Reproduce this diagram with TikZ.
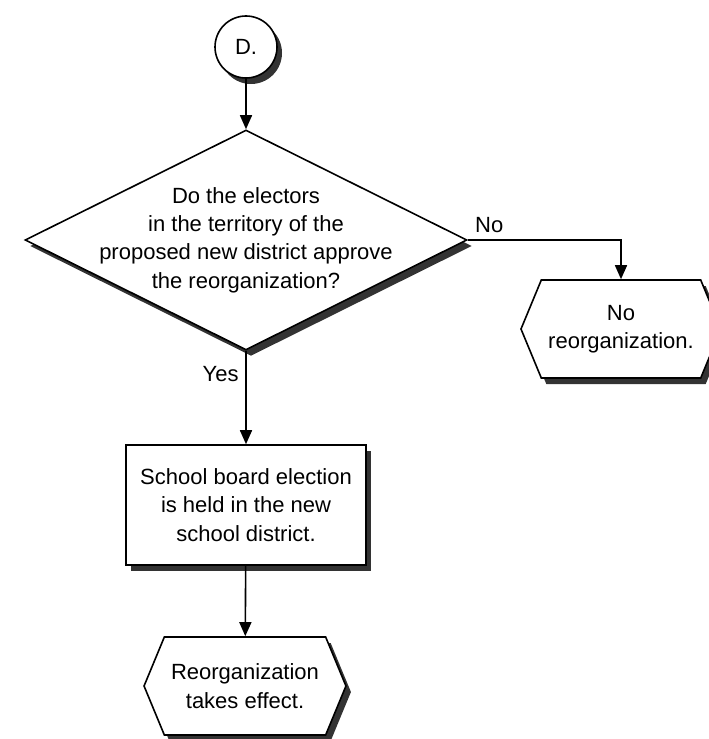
\documentclass[tikz,border=0pt]{standalone}
\usepackage{fontspec}
\setmainfont{Liberation Sans}
\usetikzlibrary{positioning, shapes, shadows, arrows.meta}
\tikzset{
	boxShadow/.style={
		drop shadow={shadow xshift=2.5pt, shadow yshift=-3pt, fill=black!80, opacity=1}
	}
}
\tikzstyle{connectorNode}=[draw,circle,fill=white,minimum size=31pt,inner sep=0pt,line width=0.8pt,boxShadow]
\tikzstyle{decisionNode}=[draw,diamond,fill=white,minimum width=221pt,minimum height=110pt,inner sep=0pt,line width=0.8pt,boxShadow]
\tikzstyle{processNode}=[draw,rectangle,fill=white,minimum width=120pt,minimum height=60pt,align=center,line width=0.8pt,boxShadow]
\tikzstyle{terminalNode}=[draw,signal,signal to=east and west,signal pointer angle=135,fill=white,minimum width=100pt,minimum height=49pt,align=center,line width=0.8pt,boxShadow]
\tikzstyle{flowArrow}=[-{Triangle[width=6pt,length=7pt]}, line width=0.8pt]

\begin{document}
\begin{tikzpicture}[x=0.5pt, y=-0.5pt, font=\fontsize{11}{14.2}\selectfont]
        \useasboundingbox (0, 0) rectangle (708, 739);

        \node[connectorNode] (d) at (246, 47) {D.};
        \node[decisionNode, label={[align=center]center:{Do the electors\\in the territory of the\\proposed new district approve\\the reorganization?}}] (q) at (246, 240) {};
        \node[terminalNode] (none) at (621, 329) {No\\reorganization.};
        \node[processNode] (elect) at (246, 505) {School board election\\is held in the new\\school district.};
        \node[terminalNode] (effect) at (245, 686) {Reorganization\\takes effect.};

        \draw[flowArrow] (d) -- (q);
        \draw[flowArrow] (q.east) -| node[pos=0.07, above] {No} (none.north);
        \draw[flowArrow] (q.south) -- node[near start, left] {Yes} (elect);
        \draw[flowArrow] (elect) -- (effect);

    \end{tikzpicture}
\end{document}
